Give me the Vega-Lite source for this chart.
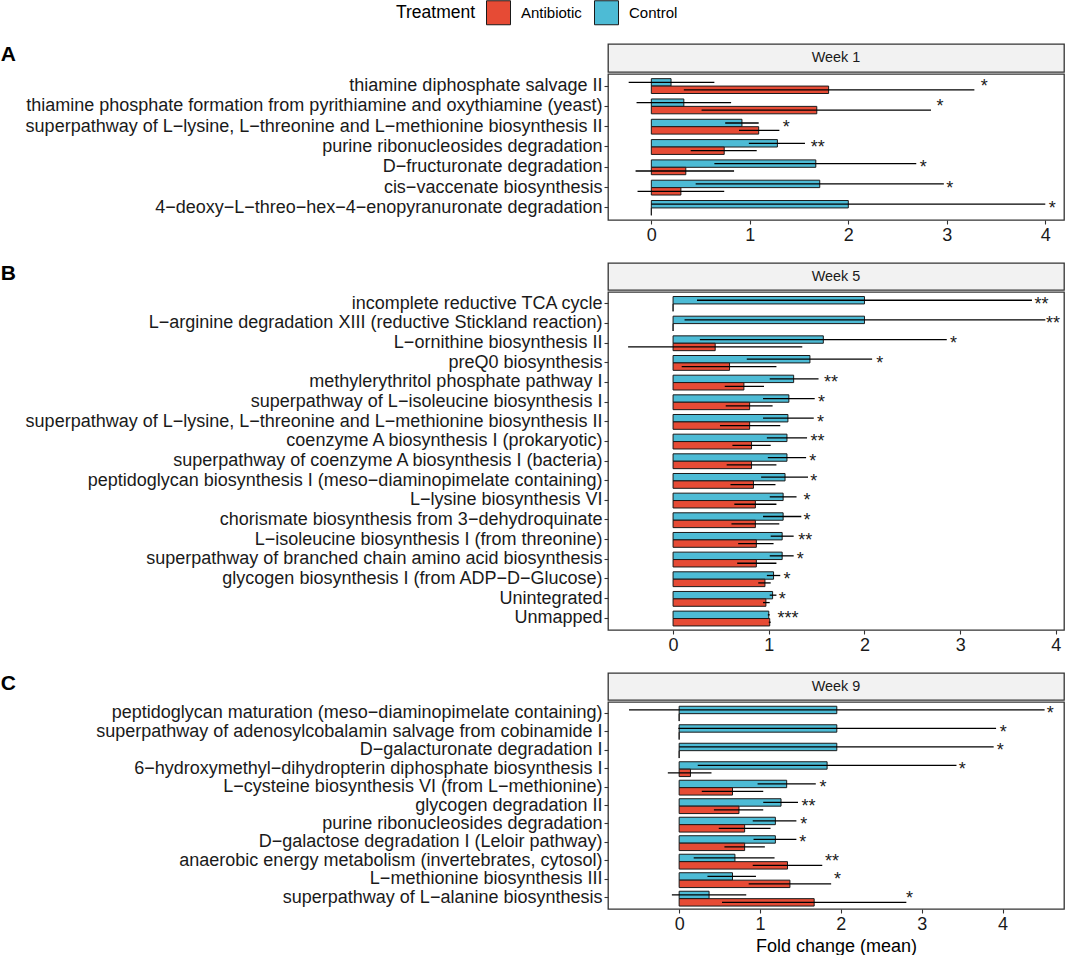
{
  "$schema": "https://vega.github.io/schema/vega-lite/v6.json",
  "padding": {"left": 0, "top": 0, "right": 2, "bottom": 3},
  "config": {
    "font": "Liberation Sans",
    "view": {"stroke": "#333333", "strokeWidth": 1.3},
    "axis": {"grid": false, "domain": false, "ticks": true, "tickSize": 4, "tickColor": "#333333", "tickWidth": 1.1, "labelFontSize": 18, "labelColor": "#1a1a1a", "labelPadding": 2, "titleFontSize": 18, "titleFontWeight": "normal", "titleColor": "#000000"},
    "title": {"fontSize": 21, "fontWeight": "bold", "color": "#000000"}
  },
  "datasets": {
    "bars": [
      {"week": "Week 1", "pathway": "thiamine diphosphate salvage II", "treatment": "Control", "mean": 0.20, "lo": -0.23, "hi": 0.64},
      {"week": "Week 1", "pathway": "thiamine diphosphate salvage II", "treatment": "Antibiotic", "mean": 1.80, "lo": 0.33, "hi": 3.28},
      {"week": "Week 1", "pathway": "thiamine phosphate formation from pyrithiamine and oxythiamine (yeast)", "treatment": "Control", "mean": 0.33, "lo": -0.15, "hi": 0.81},
      {"week": "Week 1", "pathway": "thiamine phosphate formation from pyrithiamine and oxythiamine (yeast)", "treatment": "Antibiotic", "mean": 1.68, "lo": 0.51, "hi": 2.84},
      {"week": "Week 1", "pathway": "superpathway of L−lysine, L−threonine and L−methionine biosynthesis II", "treatment": "Control", "mean": 0.92, "lo": 0.75, "hi": 1.09},
      {"week": "Week 1", "pathway": "superpathway of L−lysine, L−threonine and L−methionine biosynthesis II", "treatment": "Antibiotic", "mean": 1.09, "lo": 0.89, "hi": 1.30},
      {"week": "Week 1", "pathway": "purine ribonucleosides degradation", "treatment": "Control", "mean": 1.28, "lo": 0.99, "hi": 1.56},
      {"week": "Week 1", "pathway": "purine ribonucleosides degradation", "treatment": "Antibiotic", "mean": 0.74, "lo": 0.40, "hi": 1.07},
      {"week": "Week 1", "pathway": "D−fructuronate degradation", "treatment": "Control", "mean": 1.67, "lo": 0.64, "hi": 2.69},
      {"week": "Week 1", "pathway": "D−fructuronate degradation", "treatment": "Antibiotic", "mean": 0.35, "lo": -0.16, "hi": 0.84},
      {"week": "Week 1", "pathway": "cis−vaccenate biosynthesis", "treatment": "Control", "mean": 1.71, "lo": 0.45, "hi": 2.97},
      {"week": "Week 1", "pathway": "cis−vaccenate biosynthesis", "treatment": "Antibiotic", "mean": 0.30, "lo": -0.14, "hi": 0.74},
      {"week": "Week 1", "pathway": "4−deoxy−L−threo−hex−4−enopyranuronate degradation", "treatment": "Control", "mean": 2.00, "lo": 0.0, "hi": 4.00},
      {"week": "Week 1", "pathway": "4−deoxy−L−threo−hex−4−enopyranuronate degradation", "treatment": "Antibiotic", "mean": 0, "lo": 0, "hi": 0},

      {"week": "Week 5", "pathway": "incomplete reductive TCA cycle", "treatment": "Control", "mean": 2.00, "lo": 0.25, "hi": 3.75},
      {"week": "Week 5", "pathway": "incomplete reductive TCA cycle", "treatment": "Antibiotic", "mean": 0, "lo": 0, "hi": 0},
      {"week": "Week 5", "pathway": "L−arginine degradation XIII (reductive Stickland reaction)", "treatment": "Control", "mean": 2.00, "lo": 0.12, "hi": 3.89},
      {"week": "Week 5", "pathway": "L−arginine degradation XIII (reductive Stickland reaction)", "treatment": "Antibiotic", "mean": 0, "lo": 0, "hi": 0},
      {"week": "Week 5", "pathway": "L−ornithine biosynthesis II", "treatment": "Control", "mean": 1.57, "lo": 0.28, "hi": 2.86},
      {"week": "Week 5", "pathway": "L−ornithine biosynthesis II", "treatment": "Antibiotic", "mean": 0.44, "lo": -0.47, "hi": 1.35},
      {"week": "Week 5", "pathway": "preQ0 biosynthesis", "treatment": "Control", "mean": 1.43, "lo": 0.77, "hi": 2.08},
      {"week": "Week 5", "pathway": "preQ0 biosynthesis", "treatment": "Antibiotic", "mean": 0.59, "lo": 0.09, "hi": 1.08},
      {"week": "Week 5", "pathway": "methylerythritol phosphate pathway I", "treatment": "Control", "mean": 1.26, "lo": 1.01, "hi": 1.52},
      {"week": "Week 5", "pathway": "methylerythritol phosphate pathway I", "treatment": "Antibiotic", "mean": 0.74, "lo": 0.54, "hi": 0.95},
      {"week": "Week 5", "pathway": "superpathway of L−isoleucine biosynthesis I", "treatment": "Control", "mean": 1.21, "lo": 0.94, "hi": 1.48},
      {"week": "Week 5", "pathway": "superpathway of L−isoleucine biosynthesis I", "treatment": "Antibiotic", "mean": 0.80, "lo": 0.55, "hi": 1.04},
      {"week": "Week 5", "pathway": "superpathway of L−lysine, L−threonine and L−methionine biosynthesis II", "treatment": "Control", "mean": 1.20, "lo": 0.94, "hi": 1.47},
      {"week": "Week 5", "pathway": "superpathway of L−lysine, L−threonine and L−methionine biosynthesis II", "treatment": "Antibiotic", "mean": 0.80, "lo": 0.49, "hi": 1.12},
      {"week": "Week 5", "pathway": "coenzyme A biosynthesis I (prokaryotic)", "treatment": "Control", "mean": 1.19, "lo": 0.98, "hi": 1.40},
      {"week": "Week 5", "pathway": "coenzyme A biosynthesis I (prokaryotic)", "treatment": "Antibiotic", "mean": 0.82, "lo": 0.62, "hi": 1.02},
      {"week": "Week 5", "pathway": "superpathway of coenzyme A biosynthesis I (bacteria)", "treatment": "Control", "mean": 1.19, "lo": 0.99, "hi": 1.39},
      {"week": "Week 5", "pathway": "superpathway of coenzyme A biosynthesis I (bacteria)", "treatment": "Antibiotic", "mean": 0.82, "lo": 0.56, "hi": 1.08},
      {"week": "Week 5", "pathway": "peptidoglycan biosynthesis I (meso−diaminopimelate containing)", "treatment": "Control", "mean": 1.17, "lo": 0.92, "hi": 1.41},
      {"week": "Week 5", "pathway": "peptidoglycan biosynthesis I (meso−diaminopimelate containing)", "treatment": "Antibiotic", "mean": 0.84, "lo": 0.60, "hi": 1.07},
      {"week": "Week 5", "pathway": "L−lysine biosynthesis VI", "treatment": "Control", "mean": 1.15, "lo": 1.01, "hi": 1.29},
      {"week": "Week 5", "pathway": "L−lysine biosynthesis VI", "treatment": "Antibiotic", "mean": 0.86, "lo": 0.64, "hi": 1.08},
      {"week": "Week 5", "pathway": "chorismate biosynthesis from 3−dehydroquinate", "treatment": "Control", "mean": 1.15, "lo": 0.94, "hi": 1.34},
      {"week": "Week 5", "pathway": "chorismate biosynthesis from 3−dehydroquinate", "treatment": "Antibiotic", "mean": 0.86, "lo": 0.61, "hi": 1.11},
      {"week": "Week 5", "pathway": "L−isoleucine biosynthesis I (from threonine)", "treatment": "Control", "mean": 1.14, "lo": 1.02, "hi": 1.26},
      {"week": "Week 5", "pathway": "L−isoleucine biosynthesis I (from threonine)", "treatment": "Antibiotic", "mean": 0.87, "lo": 0.68, "hi": 1.05},
      {"week": "Week 5", "pathway": "superpathway of branched chain amino acid biosynthesis", "treatment": "Control", "mean": 1.14, "lo": 1.01, "hi": 1.26},
      {"week": "Week 5", "pathway": "superpathway of branched chain amino acid biosynthesis", "treatment": "Antibiotic", "mean": 0.87, "lo": 0.67, "hi": 1.08},
      {"week": "Week 5", "pathway": "glycogen biosynthesis I (from ADP−D−Glucose)", "treatment": "Control", "mean": 1.05, "lo": 0.98, "hi": 1.12},
      {"week": "Week 5", "pathway": "glycogen biosynthesis I (from ADP−D−Glucose)", "treatment": "Antibiotic", "mean": 0.96, "lo": 0.89, "hi": 1.02},
      {"week": "Week 5", "pathway": "Unintegrated", "treatment": "Control", "mean": 1.04, "lo": 1.01, "hi": 1.08},
      {"week": "Week 5", "pathway": "Unintegrated", "treatment": "Antibiotic", "mean": 0.97, "lo": 0.94, "hi": 1.01},
      {"week": "Week 5", "pathway": "Unmapped", "treatment": "Control", "mean": 1.00, "lo": 0.99, "hi": 1.01},
      {"week": "Week 5", "pathway": "Unmapped", "treatment": "Antibiotic", "mean": 1.01, "lo": 1.00, "hi": 1.02},

      {"week": "Week 9", "pathway": "peptidoglycan maturation (meso−diaminopimelate containing)", "treatment": "Control", "mean": 1.95, "lo": -0.62, "hi": 4.52},
      {"week": "Week 9", "pathway": "peptidoglycan maturation (meso−diaminopimelate containing)", "treatment": "Antibiotic", "mean": 0, "lo": 0, "hi": 0},
      {"week": "Week 9", "pathway": "superpathway of adenosylcobalamin salvage from cobinamide I", "treatment": "Control", "mean": 1.95, "lo": -0.01, "hi": 3.92},
      {"week": "Week 9", "pathway": "superpathway of adenosylcobalamin salvage from cobinamide I", "treatment": "Antibiotic", "mean": 0, "lo": 0, "hi": 0},
      {"week": "Week 9", "pathway": "D−galacturonate degradation I", "treatment": "Control", "mean": 1.95, "lo": 0.0, "hi": 3.89},
      {"week": "Week 9", "pathway": "D−galacturonate degradation I", "treatment": "Antibiotic", "mean": 0, "lo": 0, "hi": 0},
      {"week": "Week 9", "pathway": "6−hydroxymethyl−dihydropterin diphosphate biosynthesis I", "treatment": "Control", "mean": 1.83, "lo": 0.23, "hi": 3.43},
      {"week": "Week 9", "pathway": "6−hydroxymethyl−dihydropterin diphosphate biosynthesis I", "treatment": "Antibiotic", "mean": 0.14, "lo": -0.14, "hi": 0.40},
      {"week": "Week 9", "pathway": "L−cysteine biosynthesis VI (from L−methionine)", "treatment": "Control", "mean": 1.33, "lo": 0.97, "hi": 1.69},
      {"week": "Week 9", "pathway": "L−cysteine biosynthesis VI (from L−methionine)", "treatment": "Antibiotic", "mean": 0.66, "lo": 0.28, "hi": 1.04},
      {"week": "Week 9", "pathway": "glycogen degradation II", "treatment": "Control", "mean": 1.26, "lo": 1.04, "hi": 1.47},
      {"week": "Week 9", "pathway": "glycogen degradation II", "treatment": "Antibiotic", "mean": 0.74, "lo": 0.43, "hi": 1.04},
      {"week": "Week 9", "pathway": "purine ribonucleosides degradation", "treatment": "Control", "mean": 1.19, "lo": 0.91, "hi": 1.45},
      {"week": "Week 9", "pathway": "purine ribonucleosides degradation", "treatment": "Antibiotic", "mean": 0.81, "lo": 0.49, "hi": 1.13},
      {"week": "Week 9", "pathway": "D−galactose degradation I (Leloir pathway)", "treatment": "Control", "mean": 1.19, "lo": 0.92, "hi": 1.45},
      {"week": "Week 9", "pathway": "D−galactose degradation I (Leloir pathway)", "treatment": "Antibiotic", "mean": 0.81, "lo": 0.56, "hi": 1.06},
      {"week": "Week 9", "pathway": "anaerobic energy metabolism (invertebrates, cytosol)", "treatment": "Control", "mean": 0.69, "lo": 0.18, "hi": 1.18},
      {"week": "Week 9", "pathway": "anaerobic energy metabolism (invertebrates, cytosol)", "treatment": "Antibiotic", "mean": 1.34, "lo": 0.91, "hi": 1.77},
      {"week": "Week 9", "pathway": "L−methionine biosynthesis III", "treatment": "Control", "mean": 0.66, "lo": 0.35, "hi": 0.95},
      {"week": "Week 9", "pathway": "L−methionine biosynthesis III", "treatment": "Antibiotic", "mean": 1.37, "lo": 0.86, "hi": 1.88},
      {"week": "Week 9", "pathway": "superpathway of L−alanine biosynthesis", "treatment": "Control", "mean": 0.37, "lo": -0.09, "hi": 0.83},
      {"week": "Week 9", "pathway": "superpathway of L−alanine biosynthesis", "treatment": "Antibiotic", "mean": 1.67, "lo": 0.53, "hi": 2.81}
    ],
    "stars": [
      {"week": "Week 1", "pathway": "thiamine diphosphate salvage II", "star": "*", "pos": 3.38},
      {"week": "Week 1", "pathway": "thiamine phosphate formation from pyrithiamine and oxythiamine (yeast)", "star": "*", "pos": 2.93},
      {"week": "Week 1", "pathway": "superpathway of L−lysine, L−threonine and L−methionine biosynthesis II", "star": "*", "pos": 1.37},
      {"week": "Week 1", "pathway": "purine ribonucleosides degradation", "star": "**", "pos": 1.69},
      {"week": "Week 1", "pathway": "D−fructuronate degradation", "star": "*", "pos": 2.76},
      {"week": "Week 1", "pathway": "cis−vaccenate biosynthesis", "star": "*", "pos": 3.03},
      {"week": "Week 1", "pathway": "4−deoxy−L−threo−hex−4−enopyranuronate degradation", "star": "*", "pos": 4.07},
      {"week": "Week 5", "pathway": "incomplete reductive TCA cycle", "star": "**", "pos": 3.85},
      {"week": "Week 5", "pathway": "L−arginine degradation XIII (reductive Stickland reaction)", "star": "**", "pos": 3.97},
      {"week": "Week 5", "pathway": "L−ornithine biosynthesis II", "star": "*", "pos": 2.93},
      {"week": "Week 5", "pathway": "preQ0 biosynthesis", "star": "*", "pos": 2.16},
      {"week": "Week 5", "pathway": "methylerythritol phosphate pathway I", "star": "**", "pos": 1.65},
      {"week": "Week 5", "pathway": "superpathway of L−isoleucine biosynthesis I", "star": "*", "pos": 1.55},
      {"week": "Week 5", "pathway": "superpathway of L−lysine, L−threonine and L−methionine biosynthesis II", "star": "*", "pos": 1.54},
      {"week": "Week 5", "pathway": "coenzyme A biosynthesis I (prokaryotic)", "star": "**", "pos": 1.51},
      {"week": "Week 5", "pathway": "superpathway of coenzyme A biosynthesis I (bacteria)", "star": "*", "pos": 1.46},
      {"week": "Week 5", "pathway": "peptidoglycan biosynthesis I (meso−diaminopimelate containing)", "star": "*", "pos": 1.47},
      {"week": "Week 5", "pathway": "L−lysine biosynthesis VI", "star": "*", "pos": 1.40},
      {"week": "Week 5", "pathway": "chorismate biosynthesis from 3−dehydroquinate", "star": "*", "pos": 1.40},
      {"week": "Week 5", "pathway": "L−isoleucine biosynthesis I (from threonine)", "star": "**", "pos": 1.38},
      {"week": "Week 5", "pathway": "superpathway of branched chain amino acid biosynthesis", "star": "*", "pos": 1.33},
      {"week": "Week 5", "pathway": "glycogen biosynthesis I (from ADP−D−Glucose)", "star": "*", "pos": 1.19},
      {"week": "Week 5", "pathway": "Unintegrated", "star": "*", "pos": 1.14},
      {"week": "Week 5", "pathway": "Unmapped", "star": "***", "pos": 1.20},
      {"week": "Week 9", "pathway": "peptidoglycan maturation (meso−diaminopimelate containing)", "star": "*", "pos": 4.59},
      {"week": "Week 9", "pathway": "superpathway of adenosylcobalamin salvage from cobinamide I", "star": "*", "pos": 4.01},
      {"week": "Week 9", "pathway": "D−galacturonate degradation I", "star": "*", "pos": 3.97},
      {"week": "Week 9", "pathway": "6−hydroxymethyl−dihydropterin diphosphate biosynthesis I", "star": "*", "pos": 3.50},
      {"week": "Week 9", "pathway": "L−cysteine biosynthesis VI (from L−methionine)", "star": "*", "pos": 1.78},
      {"week": "Week 9", "pathway": "glycogen degradation II", "star": "**", "pos": 1.60},
      {"week": "Week 9", "pathway": "purine ribonucleosides degradation", "star": "*", "pos": 1.54},
      {"week": "Week 9", "pathway": "D−galactose degradation I (Leloir pathway)", "star": "*", "pos": 1.53},
      {"week": "Week 9", "pathway": "anaerobic energy metabolism (invertebrates, cytosol)", "star": "**", "pos": 1.89},
      {"week": "Week 9", "pathway": "L−methionine biosynthesis III", "star": "*", "pos": 1.96},
      {"week": "Week 9", "pathway": "superpathway of L−alanine biosynthesis", "star": "*", "pos": 2.85}
    ]
  },
  "resolve": {"scale": {"color": "shared"}, "legend": {"color": "shared"}},
  "spacing": 17,
  "vconcat": [
    {
      "spacing": 0,
      "resolve": {"scale": {"color": "shared"}, "legend": {"color": "shared"}},
      "vconcat": [
        {
          "width": 456, "height": 28,
          "title": {"text": "A", "orient": "left", "angle": 0, "anchor": "end", "frame": "group", "offset": 592, "align": "left", "baseline": "top"},
          "view": {"fill": "#F2F2F2", "stroke": "#333333", "strokeWidth": 1.3},
          "data": {"values": [{"label": "Week 1"}]},
          "mark": {"type": "text", "fontSize": 14.4, "color": "#1a1a1a"},
          "encoding": {"text": {"field": "label"}}
        },
        {
          "width": 456, "height": 146,
          "data": {"name": "bars"},
          "transform": [{"filter": "datum.week === 'Week 1'"}],
          "encoding": {
            "y": {"field": "pathway", "type": "nominal", "sort": ["thiamine diphosphate salvage II", "thiamine phosphate formation from pyrithiamine and oxythiamine (yeast)", "superpathway of L−lysine, L−threonine and L−methionine biosynthesis II", "purine ribonucleosides degradation", "D−fructuronate degradation", "cis−vaccenate biosynthesis", "4−deoxy−L−threo−hex−4−enopyranuronate degradation"], "scale": {"paddingInner": 0.27, "paddingOuter": 0.23}, "axis": {"title": null, "labelLimit": 800}}
          },
          "layer": [
            {
              "mark": {"type": "bar", "stroke": "#1a1a1a", "strokeWidth": 1},
              "encoding": {
                "yOffset": {"field": "treatment", "type": "nominal", "sort": ["Control", "Antibiotic"], "scale": {"paddingInner": 0, "paddingOuter": 0}},
                "x": {"field": "mean", "type": "quantitative", "stack": null, "scale": {"domain": [-0.44, 4.19], "nice": false, "zero": false}, "axis": {"values": [0, 1, 2, 3, 4], "title": null}},
                "x2": {"datum": 0},
                "color": {"field": "treatment", "type": "nominal", "scale": {"domain": ["Antibiotic", "Control"], "range": ["#E64B35", "#4DBBD5"]}, "legend": {"title": "Treatment", "orient": "none", "legendX": -212, "legendY": -44, "direction": "horizontal", "titleOrient": "left", "titleFontSize": 17.5, "titleFontWeight": "normal", "titleColor": "#000000", "labelFontSize": 15, "labelColor": "#000000", "symbolType": "square", "symbolSize": 576, "symbolStrokeColor": "#1a1a1a", "symbolStrokeWidth": 1, "symbolOpacity": 1, "labelOffset": 10, "columnPadding": 10, "titlePadding": 10}}
              }
            },
            {
              "mark": {"type": "rule", "color": "#000000", "strokeWidth": 1.3},
              "encoding": {
                "yOffset": {"field": "treatment", "type": "nominal", "sort": ["Control", "Antibiotic"], "scale": {"paddingInner": 0, "paddingOuter": 0}},
                "x": {"field": "lo", "type": "quantitative", "axis": {"values": [0, 1, 2, 3, 4], "title": null}},
                "x2": {"field": "hi"}
              }
            },
            {
              "data": {"name": "stars"},
              "transform": [{"filter": "datum.week === 'Week 1'"}],
              "mark": {"type": "text", "fontSize": 18, "dy": 1, "color": "#1a1a1a"},
              "encoding": {
                "x": {"field": "pos", "type": "quantitative", "axis": {"values": [0, 1, 2, 3, 4], "title": null}},
                "text": {"field": "star"}
              }
            }
          ]
        }
      ]
    },
    {
      "spacing": 0,
      "resolve": {"scale": {"color": "shared"}, "legend": {"color": "shared"}},
      "vconcat": [
        {
          "width": 456, "height": 27,
          "title": {"text": "B", "orient": "left", "angle": 0, "anchor": "end", "frame": "group", "offset": 592, "align": "left", "baseline": "top"},
          "view": {"fill": "#F2F2F2", "stroke": "#333333", "strokeWidth": 1.3},
          "data": {"values": [{"label": "Week 5"}]},
          "mark": {"type": "text", "fontSize": 14.4, "color": "#1a1a1a"},
          "encoding": {"text": {"field": "label"}}
        },
        {
          "width": 456, "height": 338,
          "data": {"name": "bars"},
          "transform": [{"filter": "datum.week === 'Week 5'"}],
          "encoding": {
            "y": {"field": "pathway", "type": "nominal", "sort": ["incomplete reductive TCA cycle", "L−arginine degradation XIII (reductive Stickland reaction)", "L−ornithine biosynthesis II", "preQ0 biosynthesis", "methylerythritol phosphate pathway I", "superpathway of L−isoleucine biosynthesis I", "superpathway of L−lysine, L−threonine and L−methionine biosynthesis II", "coenzyme A biosynthesis I (prokaryotic)", "superpathway of coenzyme A biosynthesis I (bacteria)", "peptidoglycan biosynthesis I (meso−diaminopimelate containing)", "L−lysine biosynthesis VI", "chorismate biosynthesis from 3−dehydroquinate", "L−isoleucine biosynthesis I (from threonine)", "superpathway of branched chain amino acid biosynthesis", "glycogen biosynthesis I (from ADP−D−Glucose)", "Unintegrated", "Unmapped"], "scale": {"paddingInner": 0.27, "paddingOuter": 0.23}, "axis": {"title": null, "labelLimit": 800}}
          },
          "layer": [
            {
              "mark": {"type": "bar", "stroke": "#1a1a1a", "strokeWidth": 1},
              "encoding": {
                "yOffset": {"field": "treatment", "type": "nominal", "sort": ["Control", "Antibiotic"], "scale": {"paddingInner": 0, "paddingOuter": 0}},
                "x": {"field": "mean", "type": "quantitative", "stack": null, "scale": {"domain": [-0.68, 4.085], "nice": false, "zero": false}, "axis": {"values": [0, 1, 2, 3, 4], "title": null}},
                "x2": {"datum": 0},
                "color": {"field": "treatment", "type": "nominal", "scale": {"domain": ["Antibiotic", "Control"], "range": ["#E64B35", "#4DBBD5"]}, "legend": {"title": "Treatment", "orient": "none", "legendX": -212, "legendY": -44, "direction": "horizontal", "titleOrient": "left", "titleFontSize": 17.5, "titleFontWeight": "normal", "titleColor": "#000000", "labelFontSize": 15, "labelColor": "#000000", "symbolType": "square", "symbolSize": 576, "symbolStrokeColor": "#1a1a1a", "symbolStrokeWidth": 1, "symbolOpacity": 1, "labelOffset": 10, "columnPadding": 10, "titlePadding": 10}}
              }
            },
            {
              "mark": {"type": "rule", "color": "#000000", "strokeWidth": 1.3},
              "encoding": {
                "yOffset": {"field": "treatment", "type": "nominal", "sort": ["Control", "Antibiotic"], "scale": {"paddingInner": 0, "paddingOuter": 0}},
                "x": {"field": "lo", "type": "quantitative", "axis": {"values": [0, 1, 2, 3, 4], "title": null}},
                "x2": {"field": "hi"}
              }
            },
            {
              "data": {"name": "stars"},
              "transform": [{"filter": "datum.week === 'Week 5'"}],
              "mark": {"type": "text", "fontSize": 18, "dy": 1, "color": "#1a1a1a"},
              "encoding": {
                "x": {"field": "pos", "type": "quantitative", "axis": {"values": [0, 1, 2, 3, 4], "title": null}},
                "text": {"field": "star"}
              }
            }
          ]
        }
      ]
    },
    {
      "spacing": 0,
      "resolve": {"scale": {"color": "shared"}, "legend": {"color": "shared"}},
      "vconcat": [
        {
          "width": 456, "height": 27,
          "title": {"text": "C", "orient": "left", "angle": 0, "anchor": "end", "frame": "group", "offset": 592, "align": "left", "baseline": "top"},
          "view": {"fill": "#F2F2F2", "stroke": "#333333", "strokeWidth": 1.3},
          "data": {"values": [{"label": "Week 9"}]},
          "mark": {"type": "text", "fontSize": 14.4, "color": "#1a1a1a"},
          "encoding": {"text": {"field": "label"}}
        },
        {
          "width": 456, "height": 207,
          "data": {"name": "bars"},
          "transform": [{"filter": "datum.week === 'Week 9'"}],
          "encoding": {
            "y": {"field": "pathway", "type": "nominal", "sort": ["peptidoglycan maturation (meso−diaminopimelate containing)", "superpathway of adenosylcobalamin salvage from cobinamide I", "D−galacturonate degradation I", "6−hydroxymethyl−dihydropterin diphosphate biosynthesis I", "L−cysteine biosynthesis VI (from L−methionine)", "glycogen degradation II", "purine ribonucleosides degradation", "D−galactose degradation I (Leloir pathway)", "anaerobic energy metabolism (invertebrates, cytosol)", "L−methionine biosynthesis III", "superpathway of L−alanine biosynthesis"], "scale": {"paddingInner": 0.27, "paddingOuter": 0.23}, "axis": {"title": null, "labelLimit": 800}}
          },
          "layer": [
            {
              "mark": {"type": "bar", "stroke": "#1a1a1a", "strokeWidth": 1},
              "encoding": {
                "yOffset": {"field": "treatment", "type": "nominal", "sort": ["Control", "Antibiotic"], "scale": {"paddingInner": 0, "paddingOuter": 0}},
                "x": {"field": "mean", "type": "quantitative", "stack": null, "scale": {"domain": [-0.88, 4.76], "nice": false, "zero": false}, "axis": {"values": [0, 1, 2, 3, 4], "title": "Fold change (mean)"}},
                "x2": {"datum": 0},
                "color": {"field": "treatment", "type": "nominal", "scale": {"domain": ["Antibiotic", "Control"], "range": ["#E64B35", "#4DBBD5"]}, "legend": {"title": "Treatment", "orient": "none", "legendX": -212, "legendY": -44, "direction": "horizontal", "titleOrient": "left", "titleFontSize": 17.5, "titleFontWeight": "normal", "titleColor": "#000000", "labelFontSize": 15, "labelColor": "#000000", "symbolType": "square", "symbolSize": 576, "symbolStrokeColor": "#1a1a1a", "symbolStrokeWidth": 1, "symbolOpacity": 1, "labelOffset": 10, "columnPadding": 10, "titlePadding": 10}}
              }
            },
            {
              "mark": {"type": "rule", "color": "#000000", "strokeWidth": 1.3},
              "encoding": {
                "yOffset": {"field": "treatment", "type": "nominal", "sort": ["Control", "Antibiotic"], "scale": {"paddingInner": 0, "paddingOuter": 0}},
                "x": {"field": "lo", "type": "quantitative", "axis": {"values": [0, 1, 2, 3, 4], "title": "Fold change (mean)"}},
                "x2": {"field": "hi"}
              }
            },
            {
              "data": {"name": "stars"},
              "transform": [{"filter": "datum.week === 'Week 9'"}],
              "mark": {"type": "text", "fontSize": 18, "dy": 1, "color": "#1a1a1a"},
              "encoding": {
                "x": {"field": "pos", "type": "quantitative", "axis": {"values": [0, 1, 2, 3, 4], "title": "Fold change (mean)"}},
                "text": {"field": "star"}
              }
            }
          ]
        }
      ]
    }
  ]
}
